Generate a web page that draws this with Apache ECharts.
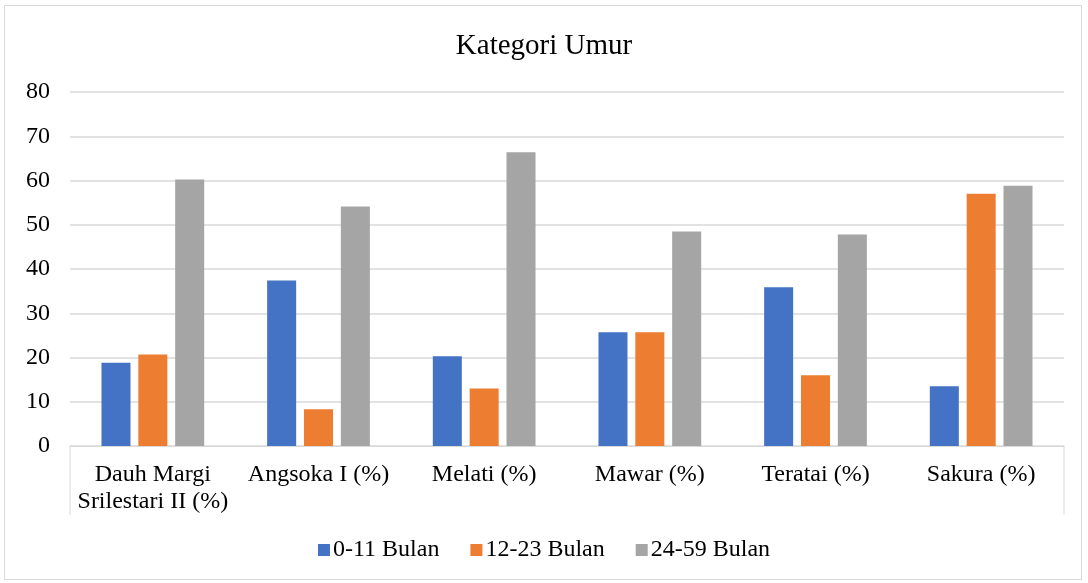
<!DOCTYPE html>
<html>
<head>
<meta charset="utf-8">
<script src="https://cdn.jsdelivr.net/npm/echarts@6/dist/echarts.min.js"></script>
<style>
  html, body { margin: 0; padding: 0; background: #fff; }
  #frame {
    position: absolute; left: 4px; top: 5px;
    width: 1078px; height: 575px;
    border: 1px solid #d9d9d9; box-sizing: border-box;
  }
  #main { position: absolute; left: 0; top: 0; width: 1088px; height: 583px; }
</style>
</head>
<body>
<div id="frame"></div>
<div id="main"></div>
<script>
// kategori (posyandu)
const categories = ['Dauh Margi\nSrilestari II (%)', 'Angsoka I (%)', 'Melati (%)', 'Mawar (%)', 'Teratai (%)', 'Sakura (%)'];
// nilai tiap kelompok umur
const umur0_11 = [18.8, 37.4, 20.3, 25.7, 35.9, 13.5];
const umur12_23 = [20.7, 8.3, 13.0, 25.7, 16.0, 57.0];
const umur24_59 = [60.2, 54.1, 66.4, 48.5, 47.8, 58.8];
const seriesNames = ['0-11 Bulan', '12-23 Bulan', '24-59 Bulan'];

const font = '"Liberation Serif", "Times New Roman", serif';
const myChart = echarts.init(document.getElementById('main'));

const makeBar = (name, data, color) => ({
  name,
  type: 'bar',
  data,
  barGap: '27%',
  barCategoryGap: '38%',
  itemStyle: { color }
});

const option = {
  animation: false,
  title: {
    text: 'Kategori Umur',
    left: 'center',
    top: 27,
    textStyle: { fontFamily: font, fontSize: 29, fontWeight: 'normal', color: '#000' }
  },
  legend: {
    bottom: 16,
    left: 'center',
    icon: 'rect',
    itemWidth: 12,
    itemHeight: 12,
    itemGap: 31,
    textStyle: { fontFamily: font, fontSize: 24, color: '#000', padding: [0, 0, 0, -2] },
    data: seriesNames
  },
  grid: { left: 70, right: 24, top: 92, bottom: 137 },
  xAxis: {
    type: 'category',
    data: categories,
    axisLine: { lineStyle: { color: '#d9d9d9', width: 1 } },
    axisTick: { show: false },
    axisLabel: { fontFamily: font, fontSize: 24, color: '#000', margin: 15, lineHeight: 27, interval: 0 }
  },
  yAxis: {
    type: 'value',
    min: 0,
    max: 80,
    interval: 10,
    axisLine: { show: false },
    axisTick: { show: false },
    splitLine: { lineStyle: { color: '#d9d9d9', width: 1.5 } },
    axisLabel: { fontFamily: font, fontSize: 24, color: '#000', margin: 20 }
  },
  series: [
    makeBar(seriesNames[0], umur0_11, '#4472C4'),
    makeBar(seriesNames[1], umur12_23, '#ED7D31'),
    makeBar(seriesNames[2], umur24_59, '#A5A5A5')
  ]
};
myChart.setOption(option);

// garis tepi area label kategori (kiri & kanan)
const x0 = 70, x1 = 1088 - 24, yTop = 583 - 137, yBot = 515;
myChart.setOption({
  graphic: [
    { type: 'line', shape: { x1: x0, y1: yTop, x2: x0, y2: yBot }, style: { stroke: '#d9d9d9', lineWidth: 1 } },
    { type: 'line', shape: { x1: x1, y1: yTop, x2: x1, y2: yBot }, style: { stroke: '#d9d9d9', lineWidth: 1 } }
  ]
});
</script>
</body>
</html>
